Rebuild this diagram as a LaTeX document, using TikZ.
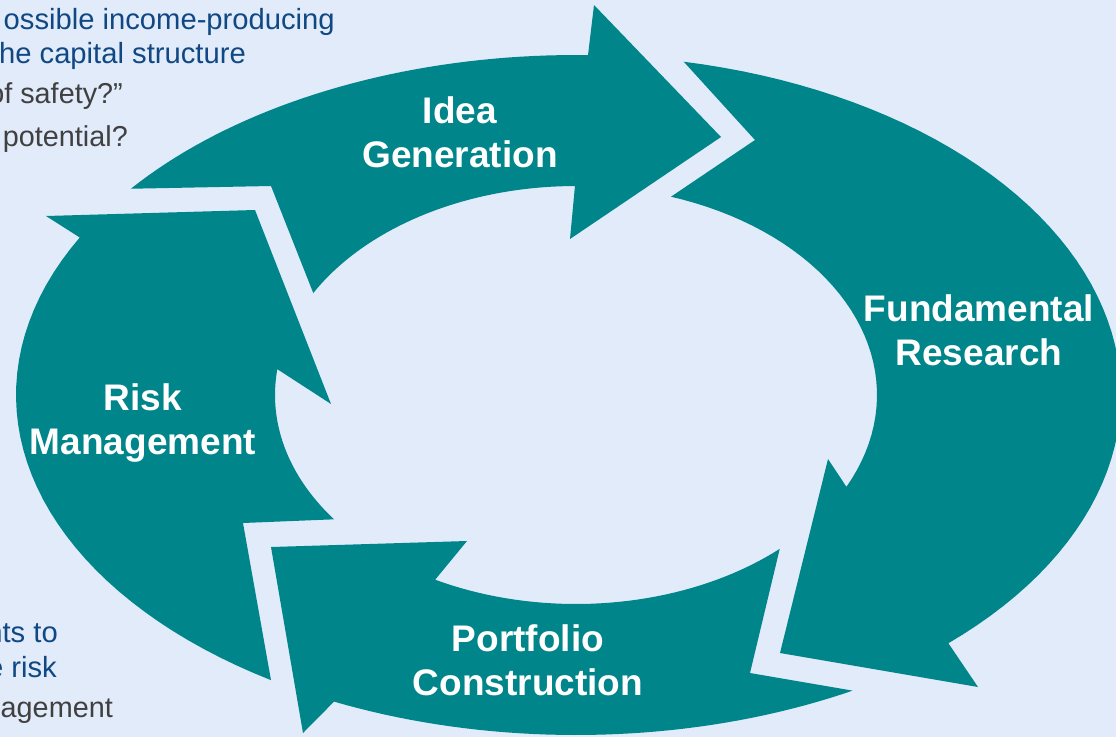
\documentclass[tikz,border=0pt]{standalone}
\usepackage{fontspec}
\setmainfont{Liberation Sans}
\definecolor{bgblue}{RGB}{225,235,249}
\definecolor{cyclecol}{RGB}{0,133,138}
\definecolor{textblue}{RGB}{16,72,132}
\definecolor{textgray}{RGB}{64,64,64}

\begin{document}
\begin{tikzpicture}
		[x=1pt,y=-1pt,
		stagetext/.style={text=white,font=\bfseries\fontsize{37}{44}\selectfont,align=center},
		bluetxt/.style={anchor=base east,inner sep=0pt,text=textblue,font=\fontsize{29.2}{34}\selectfont},
		graytxt/.style={anchor=base east,inner sep=0pt,text=textgray,font=\fontsize{28.8}{34}\selectfont}]
		\useasboundingbox (0,0) rectangle (1116,737);
		\fill[bgblue] (0,0) rectangle (1116,737);
		\clip (0,0) rectangle (1116,737);

		% text behind the cycle
		\node[bluetxt] (t1) at (335,29) {ossible income-producing};
		\node[bluetxt] (t2) at (246,63) {he capital structure};
		\node[graytxt] (t3) at (123,103) {of safety?”};
		\node[graytxt] (t4) at (128,146) {potential?};
		\node[bluetxt] (b1) at (58,642) {nts to};
		\node[bluetxt] (b2) at (57,677) {e risk};
		\node[graytxt] (b3) at (113,717) {agement};

		% the four arrows
		\fill[cyclecol] plot[domain=-142.65:-88.77,samples=40] ({576+560*cos(\x)},{395+340*sin(\x)})
			-- (594,5) -- (721,137) -- (570,239)
			-- plot[domain=-90.2:-150.8,samples=40] ({576+301*cos(\x)},{395+209*sin(\x)})
			-- (271,186) -- cycle;
		\fill[cyclecol] plot[domain=-78.6:46.9,samples=60] ({576+545*cos(\x)},{395+340*sin(\x)})
			-- (978,687) -- (780,653) -- (828,459)
			-- plot[domain=26.05:-71.6,samples=40] ({576+301*cos(\x)},{395+209*sin(\x)})
			-- (755,140) -- cycle;
		\fill[cyclecol] plot[domain=60.4:115.6,samples=40] ({576+560*cos(\x)},{395+340*sin(\x)})
			-- (303,733) -- (271,547) -- (467,541)
			-- plot[domain=117.9:47.4,samples=40] ({576+301*cos(\x)},{395+209*sin(\x)})
			-- (750,673) -- cycle;
		\fill[cyclecol] plot[domain=123:207.6,samples=40] ({576+560*cos(\x)},{395+340*sin(\x)})
			-- (46,216) -- (255,210) -- (331,404)
			-- plot[domain=187.1:143.5,samples=40] ({576+301*cos(\x)},{395+209*sin(\x)})
			-- (243,523) -- cycle;

		\node[stagetext] (idea) at (460,132) {Idea\\Generation};
		\node[stagetext] (fund) at (979,330) {Fundamental\\Research};
		\node[stagetext] (port) at (528,660) {Portfolio\\Construction};
		\node[stagetext] (risk) at (143,423) {Risk\\Management};

	\end{tikzpicture}
\end{document}
